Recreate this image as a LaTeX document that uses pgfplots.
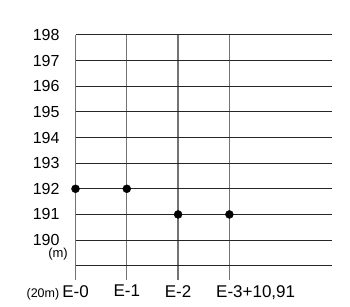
\documentclass[border=0pt]{standalone}
\usepackage{pgfplots}
\pgfplotsset{compat=1.18}
\usepackage{fontspec}
\setmainfont{Liberation Sans}
\begin{document}
\begin{tikzpicture}
\path[use as bounding box] (-75.5bp,-41.3bp) rectangle (274.5bp,265.7bp);
\begin{axis}[
  at={(0,0)}, anchor=south west,
  scale only axis, width=256.5bp, height=230.7bp,
  xmin=0, xmax=5, ymin=189, ymax=198,
  clip=false,
  axis line style={draw=none},
  xtick={0,1,2,3},
  xticklabels={{\llap{\fontsize{12.5bp}{13bp}\selectfont(20m)\kern3bp}E-0},E-1,E-2,{E-3\rlap{+10,91}}},
  ytick={189,190,...,198},
  yticklabels={,190,191,192,193,194,195,196,197,198},
  xtick pos=bottom, ytick pos=left,
  tick align=outside,
  major tick length=14bp,
  ytick style={draw=none},
  xtick style={draw=black!55, line width=1.3bp},
  ymajorgrids, xmajorgrids,
  y grid style={draw=black!85, line width=1bp},
  x grid style={draw=black!55, line width=1.3bp},
  xticklabel style={font=\fontsize{17bp}{19bp}\selectfont, yshift=-2bp},
  yticklabel style={font=\fontsize{16bp}{18bp}\selectfont, xshift=1.5bp},
  /pgf/number format/assume math mode=true,
]
\addplot[only marks, mark=*, mark size=4bp, black] coordinates {
  (0,192) (1,192) (2,191) (3,191)
};
\node[anchor=east, inner sep=0pt, font=\fontsize{13bp}{14bp}\selectfont] at (axis cs:0,189.46) [xshift=-7.5bp] {(m)};
\end{axis}
\end{tikzpicture}
\end{document}
